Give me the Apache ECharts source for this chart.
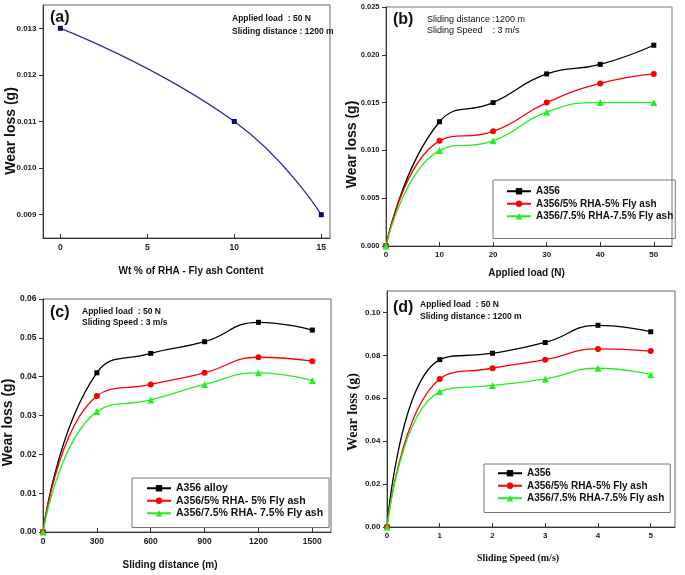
<!DOCTYPE html>
<html>
<head>
<meta charset="utf-8">
<script src="https://cdn.jsdelivr.net/npm/echarts@6/dist/echarts.min.js"></script>
<style>
html,body{margin:0;padding:0;background:#fff;}
#c{width:685px;height:575px;}
</style>
</head>
<body>
<div id="c"></div>
<script>
// ---- data ----
const aX = [0, 10, 15];
const aWear = [0.013, 0.011, 0.009];

const bX = [0, 10, 20, 30, 40, 50];
const bA356 = [0, 0.013, 0.015, 0.018, 0.019, 0.021];
const bRHA5 = [0, 0.011, 0.012, 0.015, 0.017, 0.018];
const bRHA75 = [0, 0.010, 0.011, 0.014, 0.015, 0.015];

const cX = [0, 300, 600, 900, 1200, 1500];
const cA356 = [0, 0.041, 0.046, 0.049, 0.054, 0.052];
const cRHA5 = [0, 0.035, 0.038, 0.041, 0.045, 0.044];
const cRHA75 = [0, 0.031, 0.034, 0.038, 0.041, 0.039];

const dX = [0, 1, 2, 3, 4, 5];
const dA356 = [0, 0.078, 0.081, 0.086, 0.094, 0.091];
const dRHA5 = [0, 0.069, 0.074, 0.078, 0.083, 0.082];
const dRHA75 = [0, 0.063, 0.066, 0.069, 0.074, 0.071];

const aXTicks = [0, 5, 10, 15];
const aYTicks = [0.009, 0.010, 0.011, 0.012, 0.013];
const bXTicks = [0, 10, 20, 30, 40, 50];
const bYTicks = [0, 0.005, 0.010, 0.015, 0.020, 0.025];
const cXTicks = [0, 300, 600, 900, 1200, 1500];
const cYTicks = [0, 0.01, 0.02, 0.03, 0.04, 0.05, 0.06];
const dXTicks = [0, 1, 2, 3, 4, 5];
const dYTicks = [0, 0.02, 0.04, 0.06, 0.08, 0.10];

const namesBD = ['A356', 'A356/5% RHA-5% Fly ash', 'A356/7.5% RHA-7.5% Fly ash'];
const namesC = ['A356 alloy', 'A356/5% RHA- 5% Fly ash', 'A356/7.5% RHA- 7.5% Fly ash'];

// ---- helpers ----
const SANS = 'Liberation Sans, Arial, sans-serif';
const SERIF = 'Liberation Serif, Times New Roman, serif';
const pairs = (xs, ys) => xs.map((x, i) => [x, ys[i]]);

function xAxis(gi, min, max, ticks, fs, name, gap, pad, fam) {
  return {
    type: 'value', gridIndex: gi, min: min, max: max,
    splitLine: {show: false},
    axisLine: {show: true, onZero: false, lineStyle: {color: '#333', width: 1}},
    axisTick: {show: true, inside: true, length: 4, customValues: ticks, lineStyle: {color: '#333'}},
    axisLabel: {customValues: ticks, fontSize: fs, fontWeight: 'bold', color: '#1a1a1a', margin: 5, fontFamily: SANS,
      formatter: v => String(v)},
    name: name, nameLocation: 'middle', nameGap: gap, nameMoveOverlap: false,
    nameTextStyle: {fontSize: 10, fontWeight: 'bold', color: '#111', fontFamily: fam || SANS, padding: pad}
  };
}
function yAxis(gi, min, max, ticks, fs, dec, name, gap, pad, fam) {
  return {
    type: 'value', gridIndex: gi, min: min, max: max,
    splitLine: {show: false},
    axisLine: {show: true, onZero: false, lineStyle: {color: '#333', width: 1}},
    axisTick: {show: true, inside: false, length: 4, customValues: ticks, lineStyle: {color: '#333'}},
    axisLabel: {customValues: ticks, fontSize: fs, fontWeight: 'bold', color: '#1a1a1a', margin: 6.5, fontFamily: SANS,
      formatter: v => Number(v).toFixed(dec)},
    name: name, nameLocation: 'middle', nameGap: gap, nameRotate: 90, nameMoveOverlap: false,
    nameTextStyle: {fontSize: 14, fontWeight: 'bold', color: '#111', fontFamily: fam || SANS, padding: pad}
  };
}
function lineSeries(name, gi, data, color, symbol, size) {
  return {
    name: name, type: 'line', xAxisIndex: gi, yAxisIndex: gi, data: data,
    smooth: true, symbol: symbol, symbolSize: size, showSymbol: true,
    lineStyle: {color: color, width: 1.3}, itemStyle: {color: color},
    emphasis: {disabled: true}
  };
}
function legend(names, left, top, pad, fs) {
  return {
    data: names, orient: 'vertical', left: left, top: top, padding: pad,
    itemGap: 0, itemWidth: 24, itemHeight: 8,
    borderColor: '#777', borderWidth: 1,
    textStyle: {fontSize: fs, fontWeight: 'bold', color: '#111', fontFamily: SANS, lineHeight: 12.5},
    selectedMode: false
  };
}
function txt(x, y, s, fs, weight, fam) {
  return {type: 'text', x: x, y: y, silent: true,
    style: {text: s, fontSize: fs, fontWeight: weight || 'bold', fontFamily: fam || SANS, fill: '#111',
      textVerticalAlign: 'middle', textAlign: 'left'}};
}
function grid(left, top, width, height, border) {
  return {left: left, top: top, width: width, height: height, show: true,
    borderColor: border, borderWidth: 1, containLabel: false, outerBoundsMode: 'none'};
}

const option = {
  animation: false,
  backgroundColor: '#fff',
  grid: [
    grid(43, 5, 287, 233, '#666'),
    grid(386, 7, 286, 239, '#777'),
    grid(43, 299, 288, 233, '#666'),
    grid(387, 291, 288, 236, '#666')
  ],
  xAxis: [
    xAxis(0, -1, 15.5, aXTicks, 8.5, 'Wt % of RHA - Fly ash Content', 28, [0, 0, 0, 9]),
    xAxis(1, 0, 53.4, bXTicks, 8, 'Applied load (N)', 22, [0, 5, 0, 0]),
    xAxis(2, 0, 1604, cXTicks, 8.5, 'Sliding distance (m)', 28, [0, 34, 0, 0]),
    xAxis(3, 0, 5.46, dXTicks, 8, 'Sliding Speed (m/s)', 26, [0, 26, 0, 0], SERIF)
  ],
  yAxis: [
    yAxis(0, 0.0085, 0.0135, aYTicks, 8, 3, 'Wear loss (g)', 25, [0, 19, 0, 0]),
    yAxis(1, 0, 0.025, bYTicks, 7.5, 3, 'Wear loss (g)', 27, [0, 36, 0, 0]),
    yAxis(2, 0, 0.06, cYTicks, 8.5, 2, 'Wear loss (g)', 28, [0, 14, 0, 0]),
    yAxis(3, 0, 0.11, dYTicks, 8, 2, 'Wear loss (g)', 27, [0, 6, 0, 0], SERIF)
  ],
  legend: [
    legend(namesBD, 493, 180, [5, 2, 16, 13], 10),
    legend(namesC, 132, 478, [4, 6, 8, 14], 10.5),
    legend(namesBD, 484, 464, [3, 6, 8, 13], 10)
  ],
  series: [
    {name: 'Wear loss', type: 'line', xAxisIndex: 0, yAxisIndex: 0, data: pairs(aX, aWear),
      smooth: true, symbol: 'rect', symbolSize: 5, lineStyle: {color: '#2f2f96', width: 1.3},
      itemStyle: {color: '#0a0a80'}, emphasis: {disabled: true}},
    lineSeries(namesBD[0], 1, pairs(bX, bA356), '#000000', 'rect', 5),
    lineSeries(namesBD[1], 1, pairs(bX, bRHA5), '#ff0000', 'circle', 6),
    lineSeries(namesBD[2], 1, pairs(bX, bRHA75), '#22ee22', 'triangle', 7),
    lineSeries(namesC[0], 2, pairs(cX, cA356), '#000000', 'rect', 5),
    lineSeries(namesC[1], 2, pairs(cX, cRHA5), '#ff0000', 'circle', 6),
    lineSeries(namesC[2], 2, pairs(cX, cRHA75), '#22ee22', 'triangle', 7),
    lineSeries(namesBD[0], 3, pairs(dX, dA356), '#000000', 'rect', 5),
    lineSeries(namesBD[1], 3, pairs(dX, dRHA5), '#ff0000', 'circle', 6),
    lineSeries(namesBD[2], 3, pairs(dX, dRHA75), '#22ee22', 'triangle', 7)
  ],
  graphic: [
    txt(50, 18, '(a)', 16),
    txt(232, 19, 'Applied load  : 50 N', 8.5),
    txt(232, 32, 'Sliding distance : 1200 m', 8.5),
    txt(393, 20, '(b)', 16),
    txt(427, 20, 'Sliding distance :1200 m', 9, 'normal'),
    txt(427, 31, 'Sliding Speed    : 3 m/s', 9, 'normal'),
    txt(50, 313, '(c)', 16),
    txt(82, 312, 'Applied load  : 50 N', 8.5),
    txt(82, 323, 'Sliding Speed : 3 m/s', 8.5),
    txt(393, 308, '(d)', 16),
    txt(420, 305, 'Applied load  : 50 N', 8.5),
    txt(420, 317, 'Sliding distance : 1200 m', 8.5)
  ]
};

const chart = echarts.init(document.getElementById('c'), null, {renderer: 'canvas'});
chart.setOption(option);
</script>
</body>
</html>
